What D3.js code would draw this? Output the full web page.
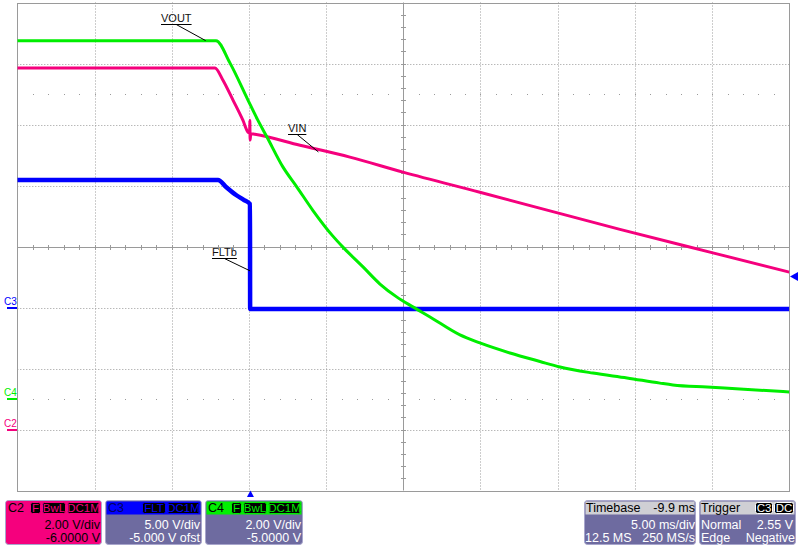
<!DOCTYPE html>
<html><head><meta charset="utf-8">
<script src="https://cdn.jsdelivr.net/npm/d3@7"></script>
<style>body{margin:0;background:#fff}svg{display:block}text{font-family:"Liberation Sans",Arial,sans-serif}</style>
</head><body><svg id="c" width="800" height="547"></svg>
<script>
// ---- data (time in ms relative to trigger, volts) ----
const vinTime = [-15.1, -2.30, -1.78, -1.13, -0.49, -0.16, -0.05, -0.04, -0.02, 0.02, 0.29, 3.21, 6.44, 9.88, 14.86, 23.93, 29.95, 34.9];
const vinVolt = [11.85, 11.85, 11.45, 10.80, 10.14, 9.75, 9.72, 10.14, 9.49, 9.70, 9.68, 9.32, 8.93, 8.44, 7.78, 6.56, 5.79, 5.16];
const voutTime = [-15.1, -2.23, -1.33, -0.16, 0.47, 1.07, 2.10, 3.01, 4.05, 5.34, 5.99, 7.29, 8.39, 9.49, 10.52, 11.63, 13.57, 14.86, 16.81, 18.75, 20.05, 22.18, 24.39, 26.52, 27.36, 29.57, 31.70, 34.9];
const voutVolt = [11.75, 11.75, 11.02, 9.80, 9.15, 8.59, 7.61, 6.95, 6.18, 5.34, 4.98, 4.33, 3.77, 3.34, 3.02, 2.69, 2.10, 1.84, 1.51, 1.23, 1.05, 0.85, 0.69, 0.52, 0.46, 0.39, 0.33, 0.23];
const fltTime = [-15.1, -2.10, -1.58, -0.93, -0.41, -0.03, -0.02, 34.9];
const fltVolt = [10.45, 10.45, 9.88, 9.22, 8.81, 8.48, -0.12, -0.12];

const channelNames = ["C2", "C3", "C4"];
const channelColors = ["#f5007d", "#0000ff", "#00ee00"];
const channelVoltsPerDiv = [2, 5, 2];
const channelOffsets = [-6, -5, -5];
const channelBadges = [["F", "BwL", "DC1M"], ["FLT", "DC1M"], ["F", "BwL", "DC1M"]];
const channelLine1 = ["2.00 V/div", "5.00 V/div", "2.00 V/div"];
const channelLine2 = ["-6.0000 V", "-5.000 V ofst", "-5.0000 V"];
const timebaseText = ["Timebase", "-9.9 ms", "5.00 ms/div", "12.5 MS", "250 MS/s"];
const triggerText = ["Trigger", "Normal", "2.55 V", "Edge", "Negative"];
const triggerBadges = ["C3", "DC"];
const triggerLevel = 2.55;
const timePerDiv = 5, timeCenter = 9.9;
const traceLabels = ["VOUT", "VIN", "FLTb"];

// ---- geometry ----
const L = 17.3, R = 789.3, T = 2.5, B = 490.5;
const svg = d3.select("#c");
const x = d3.scaleLinear().domain([timeCenter - 5 * timePerDiv, timeCenter + 5 * timePerDiv]).range([L, R]);
const gx = d3.scaleLinear().domain([0, 10]).range([L, R]);
const gy = d3.scaleLinear().domain([0, 8]).range([T, B]);
const chY = channelNames.map((n, i) => {
  const c = -channelOffsets[i];
  return d3.scaleLinear().domain([c - 4 * channelVoltsPerDiv[i], c + 4 * channelVoltsPerDiv[i]]).range([B, T]);
});
const px = v => Math.round(v) + 0.5;

const grid = svg.append("g");
d3.range(1, 10).filter(k => k !== 5).forEach(k => {
  grid.append("line").attr("x1", px(gx(k))).attr("x2", px(gx(k))).attr("y1", T).attr("y2", B)
    .attr("stroke", "#9a9a9a").attr("stroke-dasharray", "1,2");
});
d3.range(1, 8).filter(k => k !== 4).forEach(k => {
  grid.append("line").attr("y1", px(gy(k))).attr("y2", px(gy(k))).attr("x1", L).attr("x2", R)
    .attr("stroke", "#9a9a9a").attr("stroke-dasharray", "1,2");
});
[1.5, 6.5].forEach(k => {
  d3.range(1, 50).forEach(j => {
    grid.append("rect").attr("x", Math.round(gx(j / 5))).attr("y", Math.round(gy(k))).attr("width", 1).attr("height", 1).attr("fill", "#9a9a9a");
  });
});
const cx = px(gx(5)), cy = px(gy(4));
grid.append("line").attr("x1", cx).attr("x2", cx).attr("y1", T).attr("y2", B).attr("stroke", "#9a9a9a");
grid.append("line").attr("y1", cy).attr("y2", cy).attr("x1", L).attr("x2", R).attr("stroke", "#9a9a9a");
d3.range(1, 50).forEach(j => {
  const xx = px(gx(j / 5));
  grid.append("line").attr("x1", xx).attr("x2", xx).attr("y1", cy - 2.5).attr("y2", cy + 2.5).attr("stroke", "#9a9a9a");
});
d3.range(1, 40).forEach(j => {
  const yy = px(gy(j / 5));
  grid.append("line").attr("y1", yy).attr("y2", yy).attr("x1", cx - 2.5).attr("x2", cx + 2.5).attr("stroke", "#9a9a9a");
});
grid.append("rect").attr("x", px(L)).attr("y", px(T)).attr("width", Math.round(R) - Math.round(L)).attr("height", Math.round(B) - Math.round(T))
  .attr("fill", "none").attr("stroke", "#9a9a9a");

// ---- traces ----
svg.append("clipPath").attr("id", "clip").append("rect").attr("x", L).attr("y", T).attr("width", R - L).attr("height", B - T);
const traces = svg.append("g").attr("clip-path", "url(#clip)");
function trace(times, volts, sc, color, w) {
  const line = d3.line().curve(d3.curveMonotoneX).x(d => x(d[0])).y(d => sc(d[1]));
  traces.append("path").attr("d", line(times.map((t, i) => [t, volts[i]])))
    .attr("fill", "none").attr("stroke", color).attr("stroke-width", w).attr("stroke-linejoin", "miter");
}
trace(fltTime, fltVolt, chY[1], channelColors[1], 4.5);
trace(vinTime, vinVolt, chY[0], channelColors[0], 3);
trace(voutTime, voutVolt, chY[2], channelColors[2], 3);

// ---- trace labels with leaders ----
function label(txt, tx, ty, anchorT, anchorV, sc) {
  const g = svg.append("g");
  const t = g.append("text").attr("x", tx).attr("y", ty).attr("font-size", 11).attr("fill", "#111").text(txt);
  const w = t.node().getComputedTextLength();
  g.append("line").attr("x1", tx).attr("x2", tx + w).attr("y1", ty + 2.5).attr("y2", ty + 2.5).attr("stroke", "#000");
  g.append("line").attr("x1", tx + w / 2).attr("y1", ty + 2.5).attr("x2", x(anchorT)).attr("y2", sc(anchorV)).attr("stroke", "#000");
}
label(traceLabels[0], 161, 22, -2.9, 11.75, chY[2]);
label(traceLabels[1], 288, 132, 4.4, 9.1, chY[0]);
label(traceLabels[2], 212, 256, -0.02, 3.0, chY[1]);

// ---- left ground markers ----
channelNames.forEach((n, i) => {
  const gyv = Math.round(chY[i](0));
  const col = channelColors[i];
  svg.append("text").attr("x", 4).attr("y", gyv - 3).attr("font-size", 10).attr("fill", col).text(n);
  svg.append("rect").attr("x", 7).attr("y", gyv - 1).attr("width", 10).attr("height", 2).attr("fill", col);
});

// ---- trigger markers ----
const ty = chY[1](triggerLevel);
svg.append("path").attr("d", `M790,${ty} L798,${ty - 4.5} L798,${ty + 4.5} Z`).attr("fill", "#0000ff");
const tx0 = x(0);
svg.append("path").attr("d", `M${tx0},490.5 L${tx0 - 3.5},497 L${tx0 + 3.5},497 Z`).attr("fill", "#0000ff");

// ---- info boxes ----
const bodyFill = "#6e6ba0", boxStroke = "#a8a6cc";
function badge(g, bx, by, bw, txt, col) {
  g.append("rect").attr("x", bx + 0.5).attr("y", by + 0.5).attr("width", bw - 1).attr("height", 11).attr("rx", 2)
    .attr("fill", "#000").attr("stroke", col);
  g.append("text").attr("x", bx + bw / 2).attr("y", by + 10).attr("text-anchor", "middle").attr("font-size", 11.5).attr("fill", col).text(txt);
}
const boxX = [5, 105, 205], boxW = [96, 96, 97];
channelNames.forEach((n, i) => {
  const g = svg.append("g");
  const bx = boxX[i], bw = boxW[i], col = channelColors[i];
  const body = i === 0 ? col : bodyFill;
  g.append("rect").attr("x", bx + 0.5).attr("y", 500.5).attr("width", bw).attr("height", 44).attr("rx", 3).attr("fill", body).attr("stroke", boxStroke);
  g.append("rect").attr("x", bx + 1.5).attr("y", 501.5).attr("width", bw - 2).attr("height", 13).attr("fill", col === "#00ee00" ? "#00f000" : col);
  g.append("text").attr("x", bx + 3).attr("y", 512).attr("font-size", 12.5).attr("fill", i === 1 ? "#000060" : "#000").text(n);
  const widths = channelBadges[i].map(b => b === "F" ? 11 : b === "DC1M" ? 33 : 24);
  let bx2 = bx + bw - 1;
  for (let k = channelBadges[i].length - 1; k >= 0; k--) {
    bx2 -= widths[k];
    badge(g, bx2, 502, widths[k], channelBadges[i][k], col);
    bx2 -= 1;
  }
  const tc = i === 0 ? "#000" : "#fff";
  g.append("text").attr("x", bx + bw - 1).attr("y", 529).attr("text-anchor", "end").attr("font-size", 12.5).attr("fill", tc).text(channelLine1[i]);
  g.append("text").attr("x", bx + bw - 1).attr("y", 542).attr("text-anchor", "end").attr("font-size", 12.5).attr("fill", tc).text(channelLine2[i]);
});
{
  const g = svg.append("g"), bx = 584, bw = 111;
  g.append("rect").attr("x", bx + 0.5).attr("y", 500.5).attr("width", bw).attr("height", 44).attr("rx", 3).attr("fill", bodyFill).attr("stroke", boxStroke);
  g.append("rect").attr("x", bx + 1.5).attr("y", 501.5).attr("width", bw - 2).attr("height", 13).attr("fill", "#cfcfd4");
  g.append("text").attr("x", bx + 2).attr("y", 512).attr("font-size", 12.5).attr("fill", "#000").text(timebaseText[0]);
  g.append("text").attr("x", bx + bw).attr("y", 512).attr("text-anchor", "end").attr("font-size", 12.5).attr("fill", "#000").text(timebaseText[1]);
  g.append("text").attr("x", bx + bw).attr("y", 529).attr("text-anchor", "end").attr("font-size", 12.5).attr("fill", "#fff").text(timebaseText[2]);
  g.append("text").attr("x", bx + 1).attr("y", 542).attr("font-size", 12.5).attr("fill", "#fff").text(timebaseText[3]);
  g.append("text").attr("x", bx + bw).attr("y", 542).attr("text-anchor", "end").attr("font-size", 12.5).attr("fill", "#fff").text(timebaseText[4]);
}
{
  const g = svg.append("g"), bx = 699, bw = 96;
  g.append("rect").attr("x", bx + 0.5).attr("y", 500.5).attr("width", bw).attr("height", 44).attr("rx", 3).attr("fill", bodyFill).attr("stroke", boxStroke);
  g.append("rect").attr("x", bx + 1.5).attr("y", 501.5).attr("width", bw - 2).attr("height", 13).attr("fill", "#cfcfd4");
  g.append("text").attr("x", bx + 2).attr("y", 512).attr("font-size", 12.5).attr("fill", "#000").text(triggerText[0]);
  badge(g, 755, 502, 18, triggerBadges[0], "#fff");
  badge(g, 774, 502, 20, triggerBadges[1], "#fff");
  g.append("text").attr("x", bx + 2).attr("y", 529).attr("font-size", 12.5).attr("fill", "#fff").text(triggerText[1]);
  g.append("text").attr("x", bx + bw - 2).attr("y", 529).attr("text-anchor", "end").attr("font-size", 12.5).attr("fill", "#fff").text(triggerText[2]);
  g.append("text").attr("x", bx + 2).attr("y", 542).attr("font-size", 12.5).attr("fill", "#fff").text(triggerText[3]);
  g.append("text").attr("x", bx + bw).attr("y", 542).attr("text-anchor", "end").attr("font-size", 12.5).attr("fill", "#fff").text(triggerText[4]);
}
</script></body></html>
